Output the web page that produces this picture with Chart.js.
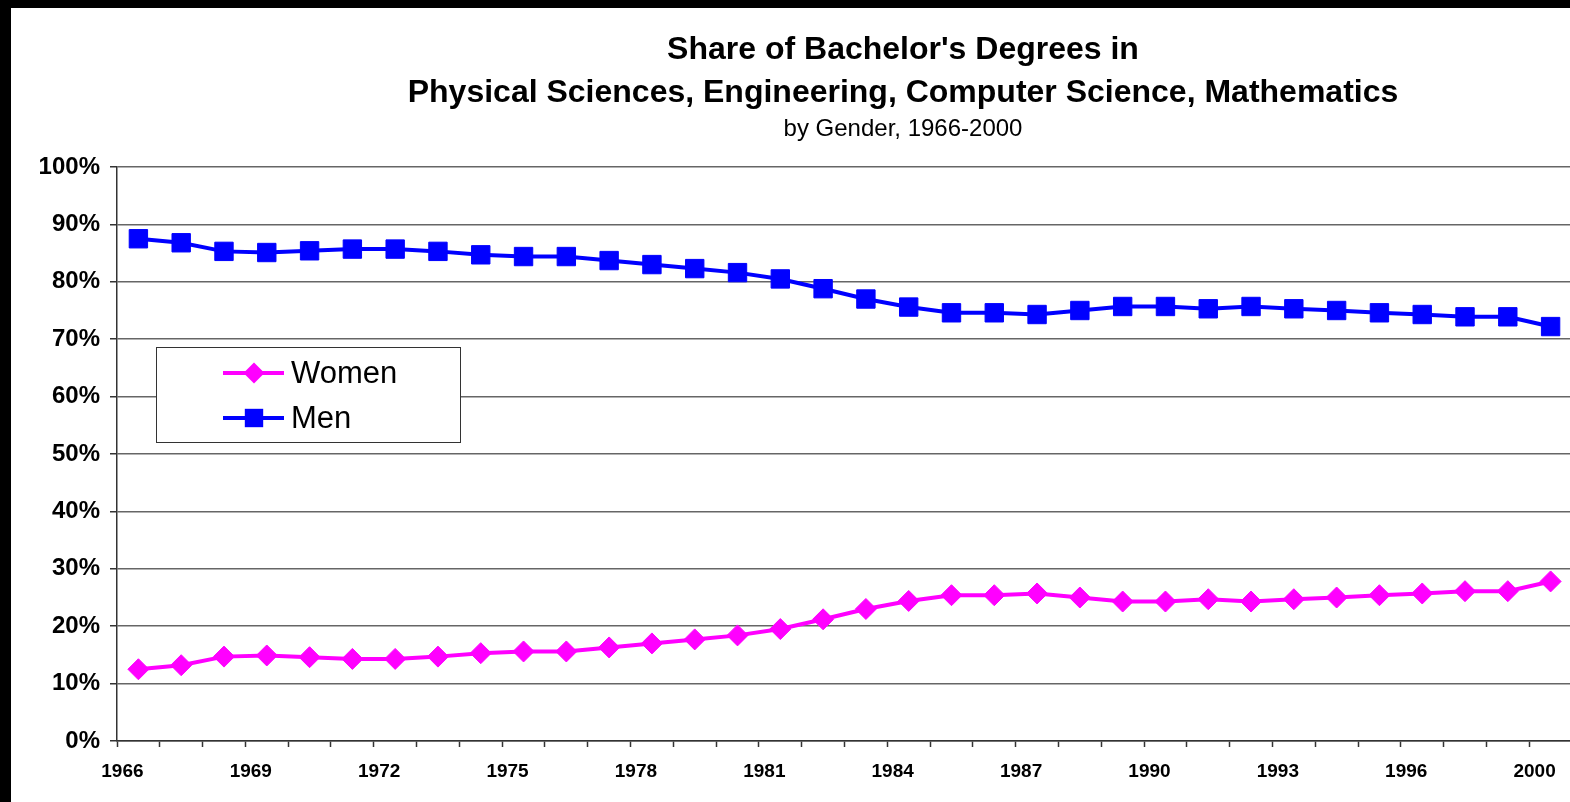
<!DOCTYPE html>
<html>
<head>
<meta charset="utf-8">
<title>Share of Bachelor's Degrees by Gender</title>
<script src="https://cdn.jsdelivr.net/npm/chart.js@4.4.1/dist/chart.umd.min.js"></script>
<style>
  html, body { margin: 0; padding: 0; background: #fff; overflow: hidden; }
  body { width: 1570px; height: 802px; position: relative; }
  #frameTop { position: absolute; left: 0; top: 0; width: 1570px; height: 8px; background: #000; }
  #frameLeft { position: absolute; left: 0; top: 0; width: 11px; height: 802px; background: #000; }
  #chart { position: absolute; left: 11px; top: 8px; }
</style>
</head>
<body>
<div id="frameTop"></div>
<div id="frameLeft"></div>
<canvas id="chart" width="1580" height="794"></canvas>
<script>
// years on the x axis (no 1999 entry in the series)
const years = [
  '1966', '1967', '1968', '1969', '1970', '1971', '1972', '1973', '1974', '1975',
  '1976', '1977', '1978', '1979', '1980', '1981', '1982', '1983', '1984', '1985',
  '1986', '1987', '1988', '1989', '1990', '1991', '1992', '1993', '1994', '1995',
  '1996', '1997', '1998', '2000'
];

// share of degrees, percent
const women = [
  12.5, 13.2, 14.7, 14.9, 14.6, 14.3, 14.3, 14.7, 15.3, 15.6,
  15.6, 16.3, 17.0, 17.7, 18.4, 19.5, 21.2, 23.0, 24.4, 25.4,
  25.4, 25.7, 25.0, 24.3, 24.3, 24.7, 24.3, 24.7, 25.0, 25.4,
  25.7, 26.1, 26.1, 27.8
];
const men = [
  87.5, 86.8, 85.3, 85.1, 85.4, 85.7, 85.7, 85.3, 84.7, 84.4,
  84.4, 83.7, 83.0, 82.3, 81.6, 80.5, 78.8, 77.0, 75.6, 74.6,
  74.6, 74.3, 75.0, 75.7, 75.7, 75.3, 75.7, 75.3, 75.0, 74.6,
  74.3, 73.9, 73.9, 72.2
];

const titleLines = ["Share of Bachelor's Degrees in", 'Physical Sciences, Engineering, Computer Science, Mathematics'];
const subTitle = 'by Gender, 1966-2000';

const FONT = "'Liberation Sans', Arial, Helvetica, sans-serif";
Chart.defaults.font.family = FONT;
Chart.defaults.color = '#000';

// centered title block drawn above the plot
const titleBlock = {
  id: 'titleBlock',
  afterDraw(chart) {
    const ctx = chart.ctx;
    const cx = 892;
    ctx.save();
    ctx.fillStyle = '#000';
    ctx.textAlign = 'center';
    ctx.textBaseline = 'alphabetic';
    ctx.font = 'bold 32px ' + FONT;
    ctx.fillText(titleLines[0], cx, 51);
    ctx.fillText(titleLines[1], cx, 94);
    ctx.font = '24px ' + FONT;
    ctx.fillText(subTitle, cx, 128);
    ctx.restore();
  }
};

// boxed legend sitting inside the plot area
const boxLegend = {
  id: 'boxLegend',
  afterDatasetsDraw(chart) {
    const ctx = chart.ctx;
    const box = { x: 145, y: 339, w: 304, h: 95 };
    ctx.save();
    ctx.fillStyle = '#fff';
    ctx.fillRect(box.x, box.y, box.w, box.h);
    ctx.strokeStyle = '#333';
    ctx.lineWidth = 1;
    ctx.strokeRect(box.x + 0.5, box.y + 0.5, box.w, box.h);

    const rows = [365, 410];
    chart.data.datasets.forEach((ds, i) => {
      const y = rows[i];
      ctx.strokeStyle = ds.borderColor;
      ctx.lineWidth = ds.borderWidth;
      ctx.beginPath();
      ctx.moveTo(212, y);
      ctx.lineTo(273, y);
      ctx.stroke();

      ctx.fillStyle = ds.pointBackgroundColor;
      ctx.beginPath();
      const mx = 243;
      if (ds.pointStyle === 'rectRot') {
        const r = ds.pointRadius;
        ctx.moveTo(mx - r, y);
        ctx.lineTo(mx, y - r);
        ctx.lineTo(mx + r, y);
        ctx.lineTo(mx, y + r);
        ctx.closePath();
      } else {
        const s = Math.SQRT1_2 * ds.pointRadius;
        ctx.rect(mx - s, y - s, 2 * s, 2 * s);
      }
      ctx.fill();

      ctx.fillStyle = '#000';
      ctx.font = '31px ' + FONT;
      ctx.textAlign = 'left';
      ctx.textBaseline = 'middle';
      ctx.fillText(ds.label, 280, y + 1);
    });
    ctx.restore();
  }
};

new Chart(document.getElementById('chart'), {
  type: 'line',
  data: {
    labels: years,
    datasets: [
      {
        label: 'Women',
        data: women,
        borderColor: '#ff00ff',
        backgroundColor: '#ff00ff',
        borderWidth: 4,
        pointStyle: 'rectRot',
        pointRadius: 10.5,
        pointBackgroundColor: '#ff00ff',
        pointBorderColor: '#ff00ff',
        pointBorderWidth: 1,
        tension: 0
      },
      {
        label: 'Men',
        data: men,
        borderColor: '#0000ff',
        backgroundColor: '#0000ff',
        borderWidth: 4,
        pointStyle: 'rect',
        pointRadius: 13,
        pointBackgroundColor: '#0000ff',
        pointBorderColor: '#0000ff',
        pointBorderWidth: 1,
        tension: 0
      }
    ]
  },
  options: {
    responsive: false,
    animation: false,
    events: [],
    layout: { padding: { top: 159, left: 0, right: 19, bottom: 0 } },
    plugins: {
      legend: { display: false },
      title: { display: false },
      tooltip: { enabled: false }
    },
    scales: {
      x: {
        offset: true,
        grid: {
          offset: true,
          drawOnChartArea: false,
          drawTicks: true,
          tickLength: 6,
          tickColor: '#333',
          tickWidth: 1.5
        },
        border: { color: '#333', width: 1.5 },
        ticks: {
          autoSkip: false,
          maxRotation: 0,
          minRotation: 0,
          labelOffset: -16,
          padding: 13,
          color: '#000',
          font: { size: 19, weight: 'bold' },
          callback(value, index) {
            return index % 3 === 0 ? this.getLabelForValue(value) : '';
          }
        },
        afterFit(scale) { scale.height = 61; }
      },
      y: {
        min: 0,
        max: 100,
        grid: {
          color: '#666',
          lineWidth: 1.5,
          tickLength: 7,
          tickColor: '#333'
        },
        border: { color: '#333', width: 1.5 },
        ticks: {
          stepSize: 10,
          padding: 10,
          color: '#000',
          font: { size: 24, weight: 'bold' },
          callback: v => v + '%'
        },
        afterFit(scale) { scale.width = 106; }
      }
    }
  },
  plugins: [titleBlock, boxLegend]
});
</script>
</body>
</html>
